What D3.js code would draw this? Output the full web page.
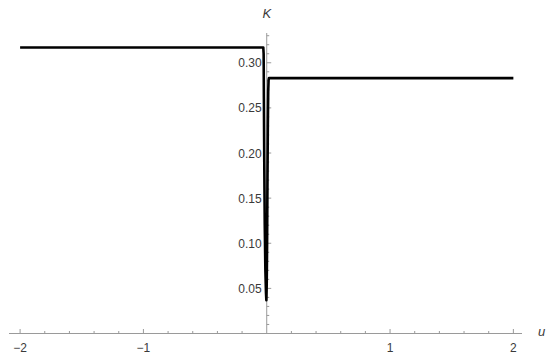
<!DOCTYPE html>
<html>
<head>
<meta charset="utf-8">
<script src="https://cdn.jsdelivr.net/npm/d3@7"></script>
<style>
  body { margin: 0; background: #fff; }
  svg { display: block; font-family: "Liberation Sans", Arial, sans-serif; }
</style>
</head>
<body>
<div id="chart"></div>
<script>
// data
var uValues = [-2, -0.028, -0.025, -0.023, -0.02, -0.016, -0.011, -0.006, -0.003, 0, 0.003, 0.006, 0.009, 0.012, 0.015, 0.018, 2];
var kValues = [0.317, 0.317, 0.31, 0.26, 0.19, 0.12, 0.07, 0.045, 0.037, 0.055, 0.1, 0.17, 0.23, 0.268, 0.281, 0.283, 0.283];
var xTicks = [-2, -1, 1, 2];
var yTicks = [0.05, 0.10, 0.15, 0.20, 0.25, 0.30];

var svgWidth = 550;
var svgHeight = 360;

var svg = d3.select("#chart")
  .append("svg")
  .attr("width", svgWidth)
  .attr("height", svgHeight);

var xScale = d3.scaleLinear()
  .domain([-2.09, 2.07])
  .range([9, 522]);

var yScale = d3.scaleLinear()
  .domain([0, 0.333])
  .range([333.5, 33]);

var axisColor = "#9a9a9a";
var labelColor = "#3a3a3a";
var x0 = xScale(0);
var y0 = yScale(0);

// axis lines
svg.append("line")
  .attr("x1", xScale.range()[0]).attr("x2", xScale.range()[1])
  .attr("y1", y0).attr("y2", y0)
  .attr("stroke", axisColor).attr("stroke-width", 1);

svg.append("line")
  .attr("x1", x0).attr("x2", x0)
  .attr("y1", yScale.range()[0]).attr("y2", yScale.range()[1])
  .attr("stroke", axisColor).attr("stroke-width", 1);

// x ticks: major every 1, minor every 0.2
var xMinor = d3.range(-2, 2.01, 0.2).filter(d => Math.abs(d) > 1e-6);
svg.selectAll(".xtick")
  .data(xMinor)
  .enter()
  .append("line")
  .attr("x1", d => xScale(d)).attr("x2", d => xScale(d))
  .attr("y1", y0)
  .attr("y2", d => Math.abs(d - Math.round(d)) < 1e-6 ? y0 - 4.5 : y0 - 2.5)
  .attr("stroke", axisColor);

svg.selectAll(".xlabel")
  .data(xTicks)
  .enter()
  .append("text")
  .attr("x", d => xScale(d))
  .attr("y", y0 + 18)
  .attr("text-anchor", "middle")
  .attr("font-size", "12px")
  .attr("fill", labelColor)
  .text(d => d < 0 ? "\u2212" + Math.abs(d) : d);

// y ticks: major every 0.05, minor every 0.01
var yMinor = d3.range(1, 34).map(d => d / 100);
svg.selectAll(".ytick")
  .data(yMinor)
  .enter()
  .append("line")
  .attr("x1", x0)
  .attr("x2", (d, i) => (i + 1) % 5 == 0 ? x0 + 4.5 : x0 + 2.5)
  .attr("y1", d => yScale(d)).attr("y2", d => yScale(d))
  .attr("stroke", axisColor);

svg.selectAll(".ylabel")
  .data(yTicks)
  .enter()
  .append("text")
  .attr("x", x0 - 5)
  .attr("y", d => yScale(d) + 4.5)
  .attr("text-anchor", "end")
  .attr("font-size", "12px")
  .attr("fill", labelColor)
  .text(d => d.toFixed(2));

// axis names
svg.append("text")
  .attr("x", 538).attr("y", y0 + 2)
  .attr("font-size", "13px").attr("font-style", "italic")
  .attr("fill", labelColor)
  .text("u");

svg.append("text")
  .attr("x", x0).attr("y", 18)
  .attr("text-anchor", "middle")
  .attr("font-size", "13px").attr("font-style", "italic")
  .attr("fill", labelColor)
  .text("K");

// the curve
var points = uValues.map((u, i) => [u, kValues[i]]);
var line = d3.line()
  .x(d => xScale(d[0]))
  .y(d => yScale(d[1]));

svg.append("path")
  .datum(points)
  .attr("d", line)
  .attr("fill", "none")
  .attr("stroke", "#000")
  .attr("stroke-width", 2.6)
  .attr("stroke-linejoin", "round");
</script>
</body>
</html>
